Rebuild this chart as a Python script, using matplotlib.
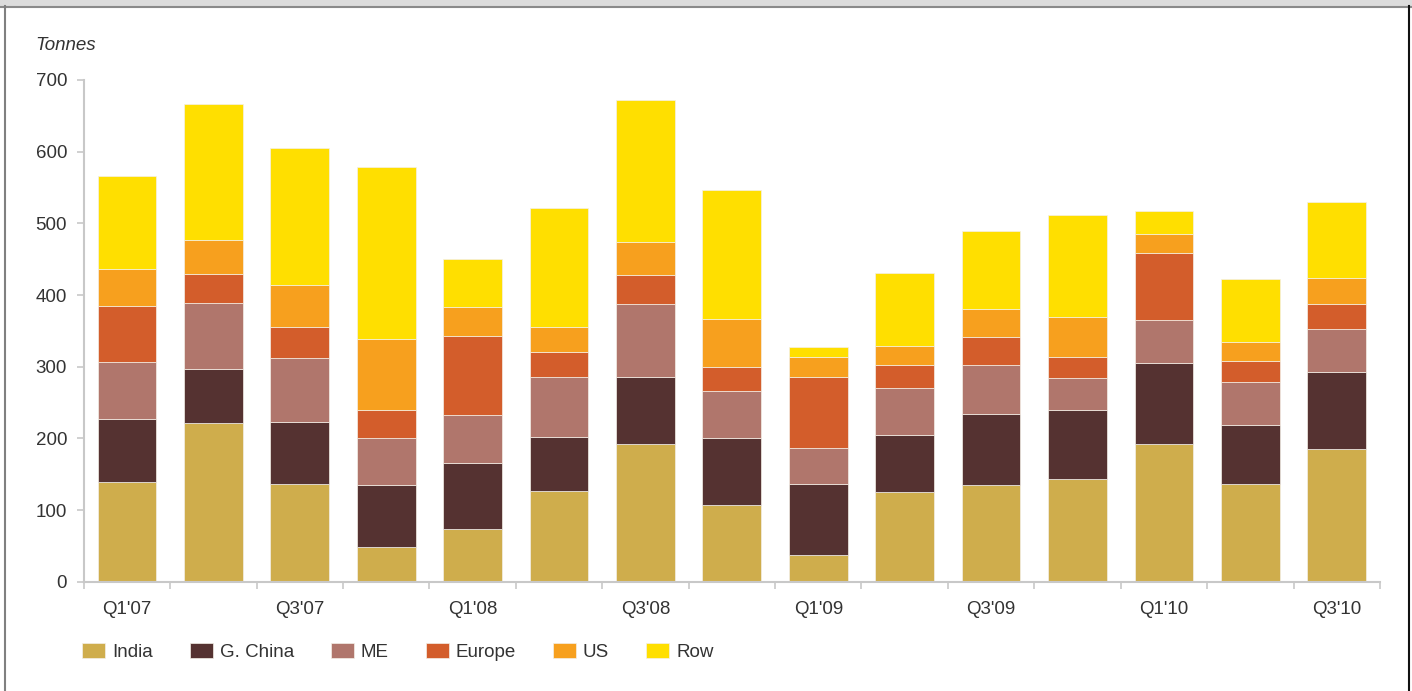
import numpy as np
import matplotlib
matplotlib.use('Agg')
import matplotlib.pyplot as plt
from matplotlib.patches import Rectangle
from matplotlib.lines import Line2D

plt.rcParams['font.family'] = ['Liberation Sans', 'DejaVu Sans']

quarters = ["Q1'07", "Q2'07", "Q3'07", "Q4'07", "Q1'08", "Q2'08", "Q3'08", "Q4'08",
            "Q1'09", "Q2'09", "Q3'09", "Q4'09", "Q1'10", "Q2'10", "Q3'10"]

# demand by region, tonnes
india = [139, 221, 137, 49, 73, 127, 192, 107, 37, 125, 135, 143, 192, 137, 185]
china = [88, 76, 86, 86, 93, 75, 93, 93, 100, 79, 99, 97, 113, 82, 107]
me = [80, 92, 89, 66, 67, 83, 102, 66, 50, 66, 68, 44, 60, 60, 61]
europe = [77, 41, 44, 38, 110, 36, 41, 33, 98, 32, 40, 30, 94, 29, 34]
us = [52, 47, 58, 100, 40, 35, 46, 68, 28, 27, 39, 56, 26, 26, 37]
row = [130, 190, 191, 239, 67, 165, 198, 180, 15, 102, 109, 141, 32, 88, 106]

series = [('India', india, '#CFAD4C'),
          ('G. China', china, '#553231'),
          ('ME', me, '#B0766C'),
          ('Europe', europe, '#D35D2B'),
          ('US', us, '#F7A01E'),
          ('Row', row, '#FFDF00')]

TEXT = '#333333'
AXIS = '#c8c8c8'
FS = 13.5

fig = plt.figure(figsize=(14.12, 6.91), dpi=100)
W, H = 1412, 691
ax = fig.add_axes([83.7 / W, (H - 581.7) / H, (1380 - 83.7) / W, (581.7 - 80) / H])

x = np.arange(len(quarters))
bottom = np.zeros(len(quarters))
for name, vals, col in series:
    vals = np.array(vals, dtype=float)
    ax.bar(x, vals, width=0.68, bottom=bottom, color=col, label=name,
           edgecolor='#f4f0e8', linewidth=0.5)
    bottom += vals

ax.set_xlim(-0.5, len(quarters) - 0.5)
ax.set_ylim(0, 700)
ax.set_yticks(np.arange(0, 701, 100))

# labels on every other bar, ticks on the category boundaries
ax.set_xticks(x[::2])
ax.set_xticklabels([quarters[i] for i in x[::2]])
ax.set_xticks(np.arange(-0.5, len(quarters), 1), minor=True)
ax.tick_params(axis='x', which='major', length=0, pad=14, labelsize=FS, labelcolor=TEXT)
ax.tick_params(axis='x', which='minor', length=5, width=1.2, color=AXIS, direction='out')
ax.tick_params(axis='y', length=5, width=1.2, color=AXIS, pad=7, labelsize=FS,
               labelcolor=TEXT)

for s in ['top', 'right']:
    ax.spines[s].set_visible(False)
for s in ['left', 'bottom']:
    ax.spines[s].set_color(AXIS)
    ax.spines[s].set_linewidth(1.5)

fig.text(35 / W, (H - 45) / H, 'Tonnes', fontsize=FS, style='italic',
         color=TEXT, ha='left', va='center')

ax.legend(loc='center left', bbox_to_anchor=(82 / W, (H - 652) / H),
          bbox_transform=fig.transFigure, ncol=6, frameon=False, fontsize=FS,
          handlelength=1.23, handleheight=0.85, handletextpad=0.37,
          columnspacing=1.97, borderpad=0, borderaxespad=0, labelcolor=TEXT)

# page frame
fig.patches.append(Rectangle((0, 1 - 6 / H), 1, 6 / H, transform=fig.transFigure,
                             facecolor='#dcdcdc', edgecolor='none'))
fig.lines.append(Line2D([0, 1], [1 - 7 / H, 1 - 7 / H], transform=fig.transFigure,
                        color='#8a8a8a', linewidth=1.5))
fig.lines.append(Line2D([5 / W, 5 / W], [0, 1 - 6 / H], transform=fig.transFigure,
                        color='#808080', linewidth=1.5))
fig.lines.append(Line2D([1409 / W, 1409 / W], [0, 1 - 6 / H], transform=fig.transFigure,
                        color='#111111', linewidth=1.5))

fig.savefig('out.png', dpi=100)
